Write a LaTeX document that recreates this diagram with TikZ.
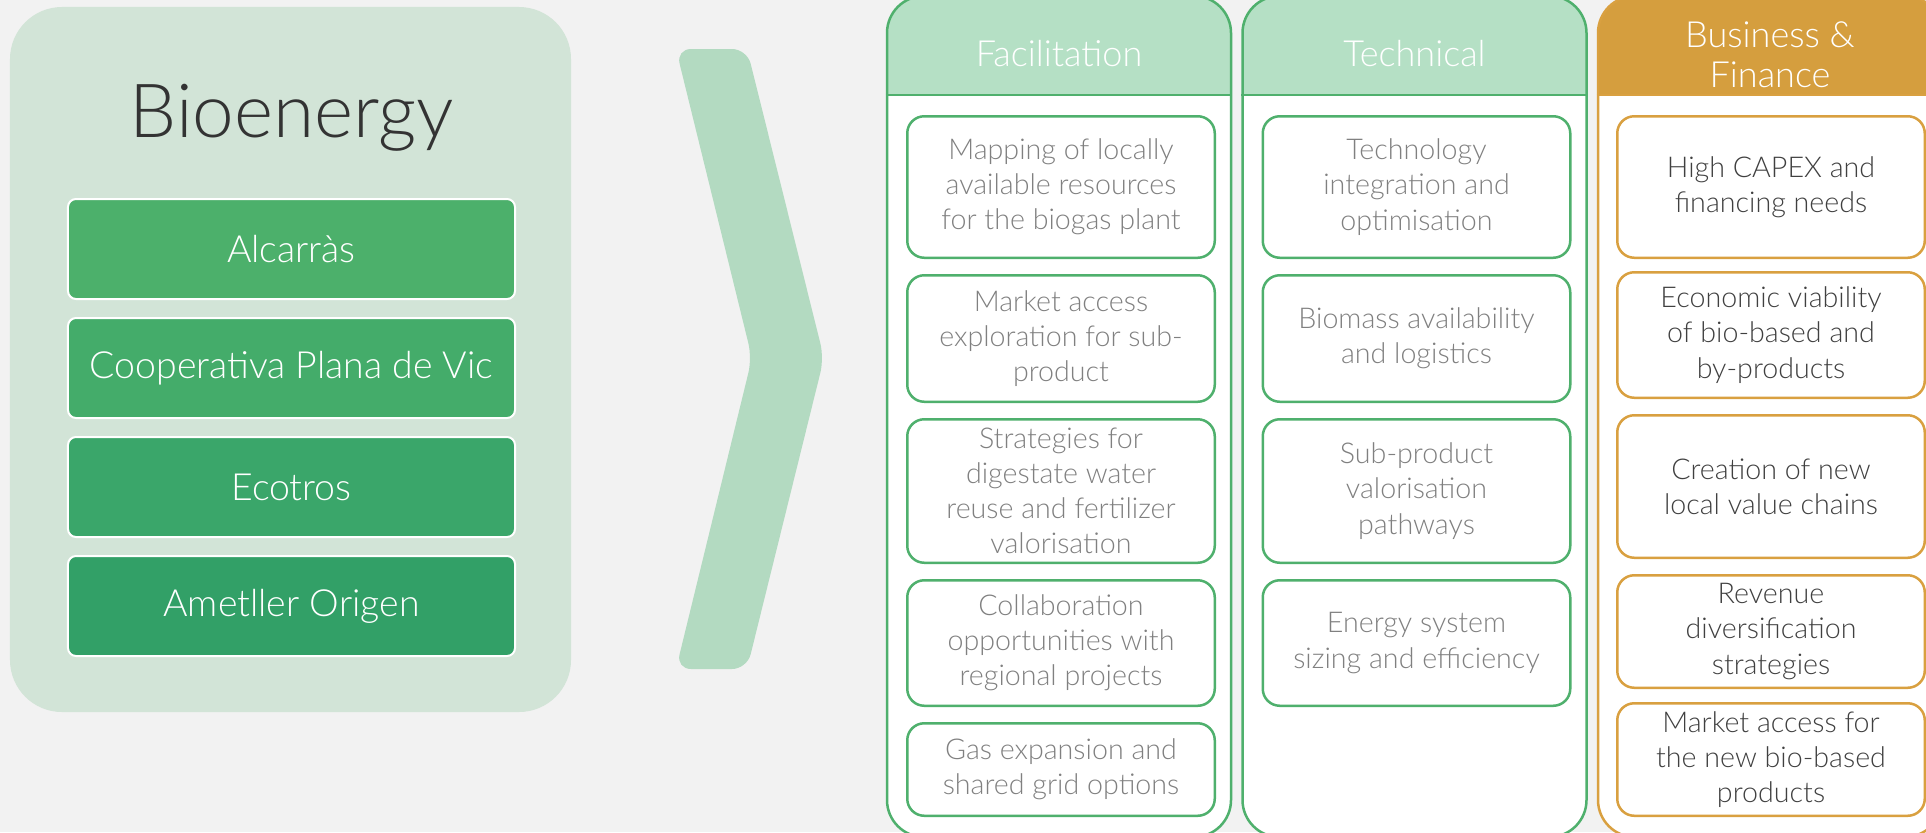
\documentclass[tikz,border=0pt]{standalone}
\usepackage{fontspec}
\setmainfont{Lato Light}
\usetikzlibrary{positioning}

\definecolor{bgGray}{HTML}{F2F2F2}
\definecolor{bioBg}{HTML}{D2E4D7}
\definecolor{greenA}{HTML}{4CB06B}
\definecolor{greenB}{HTML}{44AC6A}
\definecolor{greenC}{HTML}{3AA66A}
\definecolor{greenD}{HTML}{32A067}
\definecolor{chevGreen}{HTML}{B3DAC1}
\definecolor{hdrGreen}{HTML}{B5E0C5}
\definecolor{lineGreen}{HTML}{4FB06D}
\definecolor{hdrGold}{HTML}{D59E3E}
\definecolor{lineGold}{HTML}{D9A040}
\definecolor{txtGray}{HTML}{808080}
\definecolor{txtDark}{HTML}{404040}
\definecolor{bioText}{HTML}{333333}

\begin{document}
\begin{tikzpicture}[x=0.2mm, y=-0.2mm,
    member/.style={rectangle, draw=white, line width=0.4mm, rounded corners=1.6mm, minimum width=89.4mm, minimum height=20mm, text=white, font=\fontsize{21.3}{25}\selectfont},
    column/.style 2 args={rectangle, draw=#1, line width=0.5mm, fill=white, rounded corners=7.4mm, minimum width=68.8mm, minimum height=168.2mm,
        path picture={\fill[#2, sharp corners] (path picture bounding box.north west) rectangle ([yshift=-20mm]path picture bounding box.north east);}},
    title/.style={text=white, font=\fontsize{20.5}{23}\selectfont, align=center},
    item/.style={rectangle, draw=#1, line width=0.5mm, rounded corners=3.4mm, fill=white, minimum width=61.5mm, align=center, inner sep=0pt, font=\fontsize{16.3}{20}\selectfont},
    itemG/.style={item=lineGreen, text=txtGray},
    itemB/.style={item=lineGold, text=txtDark},
    node distance=3mm
  ]

  % background
  \useasboundingbox (0,0) rectangle (1926,832);
  \fill[bgGray] (0,0) rectangle (1926,832);

  % Bioenergy block
  \node[rectangle, fill=bioBg, rounded corners=10.4mm, minimum width=112.2mm, minimum height=141mm] (bio) at (290.5,359.5) {};
  \node[text=bioText, font=\fontsize{42.5}{48}\selectfont, anchor=base] (bioT) at (292,137) {Bioenergy};
  \node[member, fill=greenA] (alc) at (291.5,249) {Alcarràs};
  \node[member, fill=greenB, below=3.4mm of alc] (coop) {Cooperativa Plana de Vic};
  \node[member, fill=greenC, below=3.4mm of coop] (eco) {Ecotros};
  \node[member, fill=greenD, below=3.4mm of eco] (amet) {Ametller Origen};

  % chevron
  \fill[chevGreen, rounded corners=3mm] (676,49) -- (747,49) -- (824,358) -- (747,669) -- (676,669) -- (752,358) -- cycle;

  % columns
  \node[column={lineGreen}{hdrGreen}] (colF) at (1059,416.5) {};
  \node[column={lineGreen}{hdrGreen}] (colT) at (1414.5,416.5) {};
  \node[column={lineGold}{hdrGold}] (colB) at (1770,416.5) {};
  \draw[lineGreen, line width=0.5mm] ([yshift=-20mm]colF.north west) -- ([yshift=-20mm]colF.north east);
  \draw[lineGreen, line width=0.5mm] ([yshift=-20mm]colT.north west) -- ([yshift=-20mm]colT.north east);
  \draw[lineGold, line width=0.5mm] ([yshift=-20mm]colB.north west) -- ([yshift=-20mm]colB.north east);
  \node[title, anchor=base] (tF) at (1059,66) {Facilitation};
  \node[title, anchor=base] (tT) at (1414.5,66) {Technical};
  \node[title] (tB) at (1770,55) {Business \&\\Finance};

  % Facilitation
  \node[itemG, minimum height=28.3mm] (fa1) at (1061,187) {Mapping of locally\\available resources\\for the biogas plant};
  \node[itemG, minimum height=25.3mm, below=of fa1] (fa2) {Market access\\exploration for sub-\\product};
  \node[itemG, minimum height=28.7mm, below=of fa2] (fa3) {Strategies for\\digestate water\\reuse and fertilizer\\valorisation};
  \node[itemG, minimum height=25.1mm, below=of fa3] (fa4) {Collaboration\\opportunities with\\regional projects};
  \node[itemG, minimum height=18.5mm, below=of fa4] (fa5) {Gas expansion and\\shared grid options};

  % Technical
  \node[itemG, minimum height=28.3mm] (te1) at (1416.5,187) {Technology\\integration and\\optimisation};
  \node[itemG, minimum height=25.3mm, below=of te1] (te2) {Biomass availability\\and logistics};
  \node[itemG, minimum height=28.7mm, below=of te2] (te3) {Sub-product\\valorisation\\pathways};
  \node[itemG, minimum height=25.1mm, below=of te3] (te4) {Energy system\\sizing and efficiency};

  % Business & Finance
  \node[itemB, minimum height=28.3mm] (bu1) at (1771,187) {High CAPEX and\\financing needs};
  \node[itemB, minimum height=25.1mm, below=2.4mm of bu1] (bu2) {Economic viability\\of bio-based and\\by-products};
  \node[itemB, minimum height=28.5mm, below=of bu2] (bu3) {Creation of new\\local value chains};
  \node[itemB, minimum height=22.5mm, below=of bu3] (bu4) {Revenue\\diversification\\strategies};
  \node[itemB, minimum height=22.5mm, below=2.6mm of bu4] (bu5) {Market access for\\the new bio-based\\products};
\end{tikzpicture}
\end{document}
